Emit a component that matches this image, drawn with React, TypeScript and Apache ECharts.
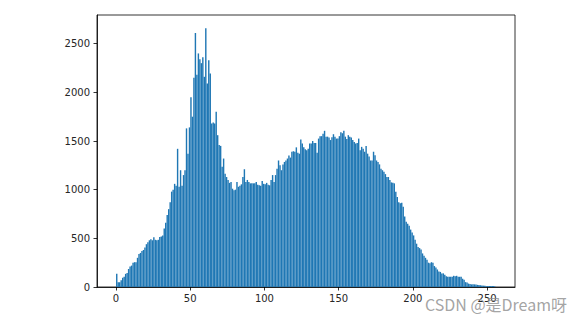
import React, { useEffect, useRef } from "react";
import * as echarts from "echarts";

// histogram counts for grey levels 0..255
const counts: number[] = [
  135, 50, 50, 70, 95, 105, 135, 145, 185, 210,
  220, 250, 255, 255, 300, 340, 350, 370, 380, 405,
  440, 460, 480, 490, 480, 510, 485, 480, 485, 515,
  520, 530, 600, 660, 740, 800, 870, 980, 1000, 1060,
  1040, 1420, 1030, 1200, 1040, 1150, 1200, 1630, 1370, 1640,
  1950, 1750, 2150, 2610, 2180, 2400, 2340, 2300, 2360, 2160,
  2660, 2090, 2330, 2195, 1680, 1690, 1680, 1800, 1560, 1460,
  1450, 1235, 1320, 1165, 1130, 1100, 1070, 1080, 1010, 995,
  1000, 1080, 1030, 1040, 1055, 1130, 1210, 1080, 1100, 1080,
  1065, 1065, 1065, 1065, 1080, 1050, 1045, 1040, 1090, 1060,
  1055, 1070, 1050, 1045, 1100, 1150, 1080, 1150, 1215, 1300,
  1250, 1200, 1260, 1285, 1300, 1320, 1350, 1330, 1390, 1395,
  1390, 1435, 1380, 1370, 1515, 1475, 1435, 1415, 1405, 1420,
  1475, 1475, 1500, 1480, 1480, 1380, 1525, 1550, 1550, 1575,
  1605, 1545, 1545, 1535, 1510, 1540, 1570, 1545, 1525, 1525,
  1550, 1590, 1580, 1605, 1545, 1520, 1560, 1545, 1535, 1510,
  1490, 1475, 1480, 1525, 1405, 1440, 1420, 1390, 1450, 1370,
  1340, 1300, 1300, 1390, 1355, 1300, 1285, 1260, 1215, 1200,
  1185, 1160, 1130, 1130, 1100, 1075, 1070, 1065, 980, 925,
  870, 860, 865, 825, 725, 670, 650, 630, 590, 560,
  530, 485, 445, 410, 400, 385, 345, 320, 300, 280,
  250, 245, 255, 250, 215, 200, 180, 160, 155, 140,
  140, 125, 110, 105, 105, 105, 105, 115, 110, 115,
  105, 105, 105, 85, 75, 50, 45, 35, 30, 27,
  27, 27, 25, 22, 20, 18, 15, 14, 12, 7,
  10, 10, 10, 10, 10, 3,
];

const xTicks: number[] = [0, 50, 100, 150, 200, 250];
const yTicks: number[] = [0, 500, 1000, 1500, 2000, 2500];

const watermark = "CSDN @是Dream呀";

export default function App() {
  const ref = useRef<HTMLDivElement>(null);

  useEffect(() => {
    if (!ref.current) return;
    const chart = echarts.init(ref.current, undefined, { renderer: "svg" });
    const data = counts.map((v, i) => [i + 0.5, v]);
    const labelStyle = {
      fontFamily: "DejaVu Sans",
      fontSize: 10,
      color: "#262626",
      formatter: (v: number) => String(Math.round(v)),
    };
    chart.setOption({
      animation: false,
      backgroundColor: "#ffffff",
      grid: {
        left: 97,
        right: 67,
        top: 15,
        bottom: 38,
        show: true,
        borderColor: "#000000",
        borderWidth: 0.8,
        backgroundColor: "transparent",
      },
      xAxis: {
        type: "value",
        min: -12.8,
        max: 268.8,
        splitLine: { show: false },
        axisLine: { show: true, onZero: false, lineStyle: { color: "#000", width: 0.8 } },
        axisTick: {
          show: true,
          length: 3.5,
          customValues: xTicks,
          lineStyle: { color: "#000", width: 0.8 },
        },
        axisLabel: { ...labelStyle, margin: 6, customValues: xTicks },
      },
      yAxis: {
        type: "value",
        min: 0,
        max: 2795,
        splitLine: { show: false },
        axisLine: { show: true, onZero: false, lineStyle: { color: "#000", width: 0.8 } },
        axisTick: {
          show: true,
          length: 3.5,
          customValues: yTicks,
          lineStyle: { color: "#000", width: 0.8 },
        },
        axisLabel: { ...labelStyle, margin: 7, customValues: yTicks },
      },
      series: [
        {
          type: "bar",
          data,
          barWidth: 1.42,
          itemStyle: { color: "#1f77b4" },
          emphasis: { disabled: true },
        },
      ],
      graphic: [
        {
          type: "text",
          right: 15,
          top: 296,
          z: 100,
          style: {
            text: watermark,
            fontFamily: "Noto Sans CJK SC",
            fontSize: 16,
            fill: "rgba(140,140,140,0.8)",
          },
        },
      ],
    });
    return () => chart.dispose();
  }, []);

  return (
    <div
      ref={ref}
      style={{ position: "fixed", left: 0, top: 0, width: 582, height: 325 }}
    />
  );
}
